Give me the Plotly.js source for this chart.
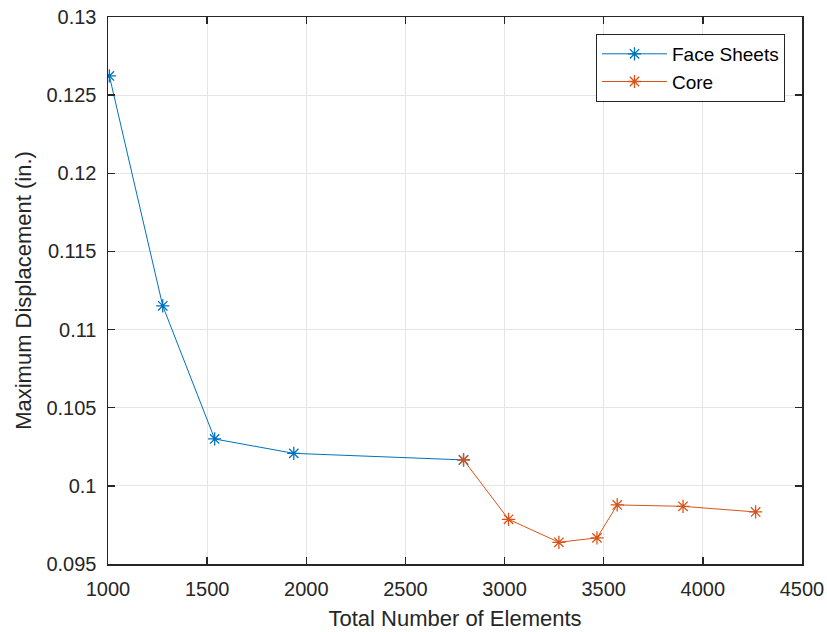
<!DOCTYPE html>
<html>
<head>
<meta charset="utf-8">
<script src="https://cdn.plot.ly/plotly-3.0.1.min.js"></script>
<style>html,body{margin:0;padding:0;background:#fff;}</style>
</head>
<body>
<div id="chart" style="width:827px;height:632px;"></div>
<script>
const faceX = [1007, 1276, 1538, 1937, 2793];
const faceY = [0.12623, 0.11152, 0.10300, 0.10208, 0.10166];
const coreX = [2793, 3020, 3274, 3466, 3568, 3900, 4266];
const coreY = [0.10166, 0.09786, 0.09639, 0.09667, 0.09878, 0.09869, 0.09833];
const xTicks = [1000, 1500, 2000, 2500, 3000, 3500, 4000, 4500];
const yTicks = [0.095, 0.1, 0.105, 0.11, 0.115, 0.12, 0.125, 0.13];
const yTickText = ['0.095', '0.1', '0.105', '0.11', '0.115', '0.12', '0.125', '0.13'];

const font = 'Liberation Sans, Arial, sans-serif';
const traces = [
  {x: faceX, y: faceY, name: 'Face Sheets', mode: 'lines+markers',
   line: {color: '#0072BD', width: 1},
   marker: {symbol: 'asterisk-open', size: 11, color: '#0072BD', line: {color: '#0072BD', width: 1.3}}},
  {x: coreX, y: coreY, name: 'Core', mode: 'lines+markers',
   line: {color: '#D95319', width: 1},
   marker: {symbol: 'asterisk-open', size: 11, color: '#D95319', line: {color: '#D95319', width: 1.3}}}
];
const axisCommon = {
  showline: true, linecolor: '#262626', linewidth: 1.5, mirror: 'ticks',
  ticks: 'inside', ticklen: 7, tickwidth: 1.5, tickcolor: '#262626',
  showgrid: true, gridcolor: '#e5e5e5', gridwidth: 1, zeroline: false,
  tickfont: {family: font, size: 20, color: '#262626'}
};
const layout = {
  width: 827, height: 632,
  margin: {l: 108, r: 25, t: 17, b: 68},
  paper_bgcolor: '#fff', plot_bgcolor: '#fff',
  showlegend: true,
  legend: {x: 0.9755, y: 0.969, xanchor: 'right', yanchor: 'top',
    bgcolor: '#fff', bordercolor: '#262626', borderwidth: 1,
    itemwidth: 65,
    font: {family: font, size: 19, color: '#000'}},
  xaxis: Object.assign({}, axisCommon, {
    range: [1000, 4500], tickvals: xTicks, ticktext: xTicks.map(String),
    ticklabelstandoff: 6,
    title: {text: 'Total Number of Elements', font: {family: font, size: 22, color: '#262626'}, standoff: 12}
  }),
  yaxis: Object.assign({}, axisCommon, {
    range: [0.095, 0.13], tickvals: yTicks, ticktext: yTickText,
    ticklabelstandoff: 6,
    title: {text: 'Maximum Displacement (in.)', font: {family: font, size: 22, color: '#262626'}, standoff: 8}
  })
};
Plotly.newPlot('chart', traces, layout, {displayModeBar: false, staticPlot: true});
</script>
</body>
</html>
